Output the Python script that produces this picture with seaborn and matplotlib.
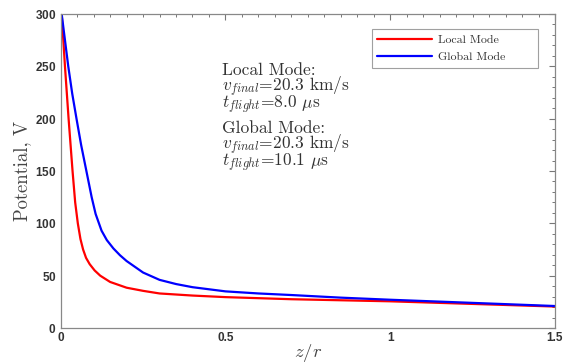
import matplotlib
matplotlib.use("Agg")
import matplotlib.pyplot as plt
from matplotlib.ticker import MultipleLocator
import seaborn as sns
import pandas as pd

# ---- data ----
local_z = [0.003, 0.013, 0.024, 0.036, 0.044, 0.052, 0.06, 0.068, 0.077, 0.088, 0.103,
           0.12, 0.15, 0.2, 0.25, 0.3, 0.4, 0.5, 0.6, 0.7, 0.85, 1.0, 1.25, 1.5]
local_v = [300, 250, 200, 150, 120, 100, 85, 75, 67, 61, 55,
           50, 44, 38.5, 35.5, 33, 31, 29.5, 28.5, 27.5, 26.5, 25.5, 23, 20.5]
global_z = [0.003, 0.013, 0.023, 0.035, 0.048, 0.062, 0.078, 0.094, 0.106, 0.124, 0.14,
            0.16, 0.18, 0.2, 0.25, 0.3, 0.35, 0.4, 0.5, 0.6, 0.7, 0.85, 1.0, 1.25, 1.5]
global_v = [300, 275, 250, 224, 200, 175, 150, 125, 109, 93, 84,
            76, 69.5, 64, 53, 46, 42, 39, 35, 33, 31.5, 29, 27, 24, 21]
series_names = ["Local Mode", "Global Mode"]
series_colors = ["#ff0000", "#0000ff"]
x_ticks = [0, 0.5, 1, 1.5]
x_tick_labels = ["0", "0.5", "1", "1.5"]
y_ticks = [0, 50, 100, 150, 200, 250, 300]
annotation_lines = [
    ("Local Mode:", 0),
    (r"$v_{final}$=20.3 km/s", 1),
    (r"$t_{flight}$=8.0 $\mu$s", 2),
    ("Global Mode:", 3.5),
    (r"$v_{final}$=20.3 km/s", 4.5),
    (r"$t_{flight}$=10.1 $\mu$s", 5.5),
]

df = pd.concat([
    pd.DataFrame({"z": local_z, "V": local_v, "mode": series_names[0]}),
    pd.DataFrame({"z": global_z, "V": global_v, "mode": series_names[1]}),
])

sns.set_style("white")
plt.rcParams["mathtext.fontset"] = "cm"
plt.rcParams["font.family"] = ["cmr10", "DejaVu Serif"]
plt.rcParams["axes.formatter.use_mathtext"] = True

fig = plt.figure(figsize=(5.65, 3.64), dpi=100)
ax = fig.add_axes([0.1074, 0.0989, 0.8749, 0.8626])

sns.lineplot(data=df, x="z", y="V", hue="mode", palette=series_colors,
             hue_order=series_names, estimator=None, sort=True, lw=1.6, ax=ax)

ax.set_xlim(0, 1.5)
ax.set_ylim(0, 300)
ax.set_xticks(x_ticks)
ax.set_xticklabels(x_tick_labels)
ax.set_yticks(y_ticks)
ax.xaxis.set_minor_locator(MultipleLocator(0.05))
ax.yaxis.set_minor_locator(MultipleLocator(10))

tick_col = "#333333"
for lab in ax.get_xticklabels() + ax.get_yticklabels():
    lab.set_family(["Liberation Sans", "DejaVu Sans"])
    lab.set_fontsize(8.5)
    lab.set_color(tick_col)
    lab.set_fontweight("bold")

ax.tick_params(which="both", direction="in", top=True, right=True, colors="#777777",
               labelcolor=tick_col)
ax.tick_params(which="major", length=4, width=0.8, pad=3)
ax.tick_params(which="minor", length=2.2, width=0.7)
for sp in ax.spines.values():
    sp.set_color("#888888")
    sp.set_linewidth(0.9)

ax.set_xlabel(r"$z/r$", fontsize=13.5, color="#444444")
ax.xaxis.set_label_coords(0.5, -0.045)
ax.set_ylabel("Potential, V", fontsize=13.5, color="#444444", labelpad=3)

for text, i in annotation_lines:
    ax.text(0.327, 0.806 - i * 0.0525, text, transform=ax.transAxes, fontsize=12.5,
            color="#333333", va="baseline", ha="left")

leg = ax.legend(loc="upper left", bbox_to_anchor=(0.630, 0.828, 0.3355, 0.124),
                mode="expand", fontsize=8.6,
                frameon=True, fancybox=False, edgecolor="#888888",
                handlelength=4.6, borderpad=0.45, labelspacing=0.6, handletextpad=0.5,
                borderaxespad=0)
leg.get_frame().set_linewidth(0.8)
for t in leg.get_texts():
    t.set_color("#333333")

fig.savefig("out.png", dpi=100)
